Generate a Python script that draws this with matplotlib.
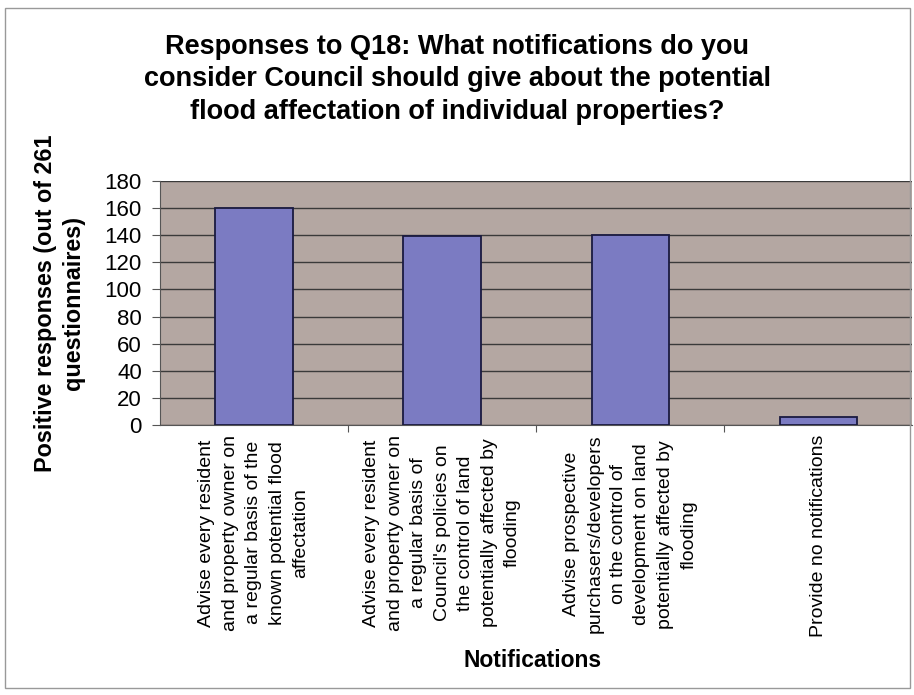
import matplotlib.pyplot as plt
from matplotlib.patches import Rectangle

categories = [
    "Advise every resident\nand property owner on\na regular basis of the\nknown potential flood\naffectation",
    "Advise every resident\nand property owner on\na regular basis of\nCouncil's policies on\nthe control of land\npotentially affected by\nflooding",
    "Advise prospective\npurchasers/developers\non the control of\ndevelopment on land\npotentially affected by\nflooding",
    "Provide no notifications",
]
responses = [160, 139, 140, 6]
yticks = list(range(0, 181, 20))

plt.rcParams['font.family'] = ['Liberation Sans', 'DejaVu Sans']

fig = plt.figure(figsize=(9.14, 6.95), dpi=100)
ax = fig.add_axes([0.175, 0.388, 0.823, 0.352])

x = list(range(len(categories)))
ax.bar(x, responses, width=0.41, color='#7b7bc2', edgecolor='#1a1a40', linewidth=1.3, zorder=3)

ax.set_facecolor('#b4a7a2')
ax.set_xlim(-0.5, len(categories) - 0.5)
ax.set_ylim(0, 180)
ax.set_yticks(yticks)
ax.yaxis.grid(True, color='#3a3a3a', linewidth=1.0, zorder=1)
ax.set_axisbelow(True)
for s in ['top', 'right']:
    ax.spines[s].set_visible(False)
ax.spines['left'].set_color('#555555')
ax.spines['bottom'].set_color('#555555')

ax.tick_params(axis='y', labelsize=16, length=6, color='#555555', pad=7)
ax.set_xticks([i + 0.5 for i in x[:-1]])
ax.set_xticklabels([])
ax.tick_params(axis='x', length=5, color='#555555')
for i, lab in enumerate(categories):
    ax.text(i, -7, lab, rotation=90, ha='center', va='top', ma='center',
            fontsize=14, linespacing=1.5, transform=ax.transData)

ax.set_ylabel("Positive responses (out of 261\nquestionnaires)", fontsize=16.8,
              fontweight='bold', linespacing=1.3, labelpad=14)
fig.text(0.583, 0.05, "Notifications", ha='center', va='center', fontsize=16.5, fontweight='bold')
fig.text(0.5, 0.886, "Responses to Q18: What notifications do you\nconsider Council should give about the potential\nflood affectation of individual properties?",
         ha='center', va='center', fontsize=19.5, fontweight='bold', linespacing=1.33)

fig.patches.append(Rectangle((0.006, 0.01), 0.99, 0.978, transform=fig.transFigure,
                             fill=False, edgecolor='#999999', linewidth=1.0))

fig.savefig("out.png", dpi=100)
